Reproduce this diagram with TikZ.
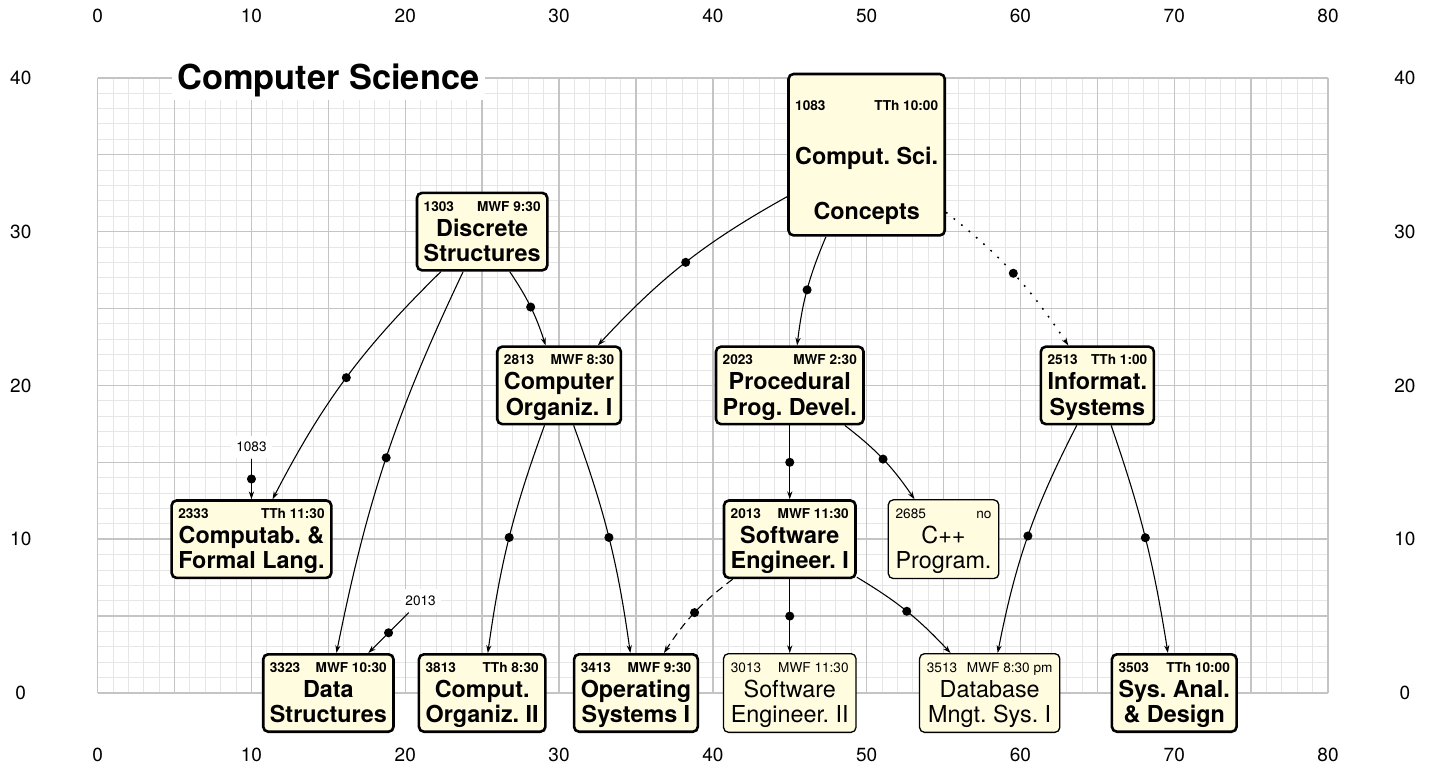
\documentclass[tikz,border=0pt]{standalone}
\usepackage{fontspec}
\setmainfont{TeX Gyre Heros}
\usetikzlibrary{arrows.meta}
\frenchspacing
\definecolor{nodefill}{RGB}{255,252,224}
\definecolor{minorgrid}{RGB}{230,230,230}
\definecolor{majorgrid}{RGB}{196,196,196}
\newlength\crsw
% #1 header font, #2 main font, #3 baselineskip, #4 header strut height, #5 last depth,
% #6 number, #7 time, #8 line one, #9 line two
\newcommand\crs[9]{%
  \setbox0=\hbox{#2#8}\crsw=\wd0
  \setbox0=\hbox{#2#9}\ifdim\wd0>\crsw\crsw=\wd0\fi
  \setbox0=\hbox{#1#6\hspace{4.5pt}#7}\ifdim\wd0>\crsw\crsw=\wd0\fi
  \vbox{\baselineskip=#3\lineskiplimit=-\maxdimen\lineskip=0pt
    \hbox to\crsw{#1\rule{0pt}{#4}#6\hfill#7}
    \hbox to\crsw{\hfil#2#8\hfil}
    \hbox to\crsw{\hfil#2#9\hfil\rule[-#5]{0pt}{0pt}}}}
\newcommand\hdB{\fontsize{6.3}{7}\selectfont\bfseries}
\newcommand\mnB{\fontsize{10.8}{11.6}\selectfont\bfseries}
\newcommand\hdR{\fontsize{6.3}{7}\selectfont}
\newcommand\mnR{\fontsize{10.8}{11.6}\selectfont}
\newcommand\req[4]{\crs{\hdB}{\mnB}{11.6pt}{6.7pt}{2.5pt}{#1}{#2}{#3}{#4}}
\newcommand\ele[4]{\crs{\hdR}{\mnR}{11.6pt}{6.7pt}{2.5pt}{#1}{#2}{#3}{#4}}
\begin{document}
\begin{tikzpicture}[x=0.25cm,y=0.25cm,
  minorline/.style={draw=minorgrid, line width=0.42pt},
  majorline/.style={draw=majorgrid, line width=0.65pt},
  axislabel/.style={font=\fontsize{8.8}{10}\selectfont, inner sep=0pt},
  reqnode/.style={draw, line width=1.2pt, fill=nodefill, rounded corners=2.3pt,
    inner xsep=3.1pt, inner ysep=1.7pt},
  elenode/.style={draw, line width=0.6pt, fill=nodefill, rounded corners=2.3pt,
    inner xsep=3.4pt, inner ysep=2pt},
  titlenode/.style={fill=white, inner xsep=2.6pt, inner ysep=1.6pt,
    font=\fontsize{15.9}{18}\selectfont\bfseries},
  smalllabel/.style={fill=white, inner xsep=2.3pt, inner ysep=3pt,
    font=\fontsize{6.3}{7}\selectfont},
  conn/.style={line width=0.5pt, -{Stealth[length=3.6pt,width=2.4pt]}},
  dotline/.style={line width=0.7pt, dash pattern=on 0.8pt off 3.7pt},
  dashline/.style={dash pattern=on 3.6pt off 2.4pt},
  dotn/.style={circle, fill=black, inner sep=0pt, minimum size=4.2pt}]
\useasboundingbox (-6.35,-4.88) rectangle (86.89,45.06);
% grid
\foreach \i in {0,...,80} \draw[minorline] (\i,0) -- (\i,40);
\foreach \j in {0,...,40} \draw[minorline] (0,\j) -- (80,\j);
\foreach \i in {0,5,...,80} \draw[majorline] (\i,0) -- (\i,40);
\foreach \j in {0,5,...,40} \draw[majorline] (0,\j) -- (80,\j);
% axis labels
\foreach \i in {0,10,...,80} {
  \node[axislabel] (xt\i) at (\i,44) {\i};
  \node[axislabel] (xb\i) at (\i,-4) {\i};
}
\foreach \j in {0,10,...,40} {
  \node[axislabel] (yl\j) at (-5,\j) {\j};
  \node[axislabel] (yr\j) at (85,\j) {\j};
}
% title
\node[titlenode] (title) at (15,39.85) {Computer Science};
% courses
\node[reqnode] (concepts) at (50,35)
  {\crs{\hdB}{\mnB}{25.1pt}{15.2pt}{5.84pt}{1083}{TTh 10:00}{Comput. Sci.}{Concepts}};
\node[reqnode] (disc) at (25,30) {\req{1303}{MWF 9:30}{Discrete}{Structures}};
\node[reqnode] (co1) at (30,20) {\req{2813}{MWF 8:30}{Computer}{Organiz. I}};
\node[reqnode] (proc) at (45,20) {\req{2023}{MWF 2:30}{Procedural}{Prog. Devel.}};
\node[reqnode] (info) at (65,20) {\req{2513}{TTh 1:00}{Informat.}{Systems}};
\node[reqnode] (se1) at (45,10) {\req{2013}{MWF 11:30}{Software}{Engineer. I}};
\node[elenode] (cpp) at (55,10) {\ele{2685}{no}{C++}{Program.}};
\node[reqnode] (comp) at (10,10) {\req{2333}{TTh 11:30}{Computab. \&}{Formal Lang.}};
\node[reqnode] (ds) at (15,0) {\req{3323}{MWF 10:30}{Data}{Structures}};
\node[reqnode] (co2) at (25,0) {\req{3813}{TTh 8:30}{Comput.}{Organiz. II}};
\node[reqnode] (os) at (35,0) {\req{3413}{MWF 9:30}{Operating}{Systems I}};
\node[elenode] (se2) at (45,0) {\ele{3013}{MWF 11:30}{Software}{Engineer. II}};
\node[elenode] (db) at (58,0) {\ele{3513}{MWF 8:30 pm}{Database}{Mngt. Sys. I}};
\node[reqnode] (sys) at (70,0) {\req{3503}{TTh 10:00}{Sys. Anal.}{\& Design}};
% outside prerequisites
\node[smalllabel] (l1083) at (10,16) {1083};
\node[smalllabel] (l2013) at (21,6) {2013};
% connectors
\draw[conn] (concepts) to[bend right=9] node[dotn] (d1) {} (co1);
\draw[conn] (concepts) to[bend right=8] node[dotn] (d2) {} (proc);
\draw[conn, dotline] (concepts) to[bend left=9] node[dotn] (d3) {} (info);
\draw[conn] (disc) to[bend left=8] node[dotn] (d4) {} (co1);
\draw[conn] (disc) to[bend right=9] node[dotn] (d5) {} (comp);
\draw[conn] (disc) to[bend right=7] node[dotn] (d6) {} (ds);
\draw[conn] (co1) to[bend right=6] node[dotn] (d7) {} (co2);
\draw[conn] (co1) to[bend left=6] node[dotn] (d8) {} (os);
\draw[conn] (proc) -- node[dotn] (d9) {} (se1);
\draw[conn] (proc) to[bend left=9] node[dotn] (d10) {} (cpp);
\draw[conn] (se1) -- node[dotn] (d11) {} (se2);
\draw[conn] (se1) to[bend left=8] node[dotn] (d12) {} (db);
\draw[conn, dashline] (se1) to[bend right=10] node[dotn] (d13) {} (os);
\draw[conn] (info) to[bend right=8] node[dotn] (d14) {} (db);
\draw[conn] (info) to[bend left=5] node[dotn] (d15) {} (sys);
\draw[conn] (l1083) -- node[dotn] (d16) {} (comp);
\draw[conn] (l2013) -- node[dotn] (d17) {} (ds);
\end{tikzpicture}
\end{document}
